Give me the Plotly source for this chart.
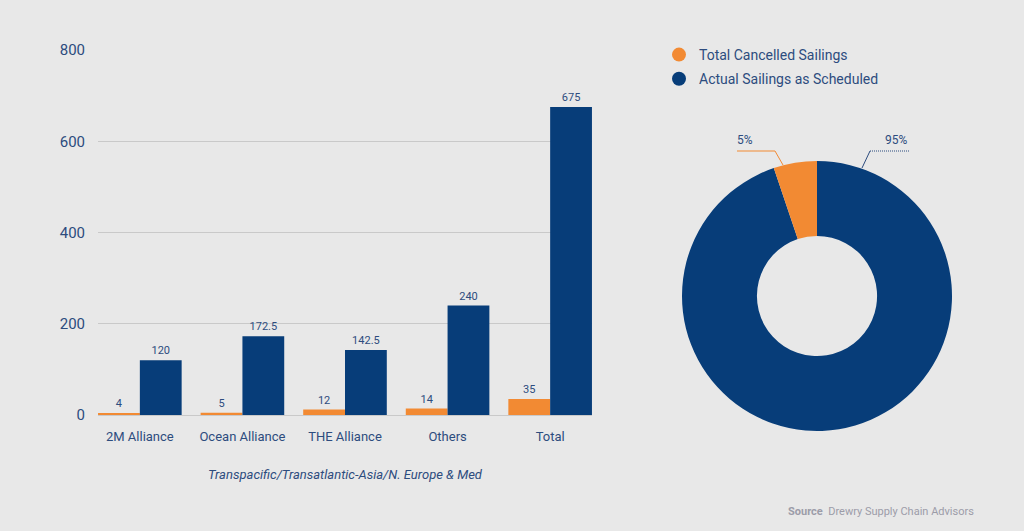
import plotly.graph_objects as go

# data
categories = ["2M Alliance", "Ocean Alliance", "THE Alliance", "Others", "Total"]
cancelled = [4, 5, 12, 14, 35]
scheduled = [120, 172.5, 142.5, 240, 675]
cancelled_labels = ["4", "5", "12", "14", "35"]
scheduled_labels = ["120", "172.5", "142.5", "240", "675"]

pie_labels = ["Total Cancelled Sailings", "Actual Sailings as Scheduled"]
pie_values = [35, 640]

ORANGE = "#F28A33"
BLUE = "#073D79"
TEXT = "#2D4C7E"
BG = "#E8E8E8"
FONT = "Roboto"

W, H = 1024, 531

fig = go.Figure()

fig.add_trace(go.Bar(
    x=categories, y=cancelled, text=cancelled_labels,
    textposition="outside", cliponaxis=False,
    marker=dict(color=ORANGE, line=dict(width=0)),
    textfont=dict(size=11, color=TEXT, family=FONT),
    showlegend=False, hoverinfo="skip",
))
fig.add_trace(go.Bar(
    x=categories, y=scheduled, text=scheduled_labels,
    textposition="outside", cliponaxis=False,
    marker=dict(color=BLUE, line=dict(width=0)),
    textfont=dict(size=11, color=TEXT, family=FONT),
    showlegend=False, hoverinfo="skip",
))

# donut: scheduled slice first so the cancelled slice sits just left of 12 o'clock
fig.add_trace(go.Pie(
    labels=pie_labels[::-1], values=pie_values[::-1],
    marker=dict(colors=[BLUE, ORANGE], line=dict(width=0)),
    hole=0.445, sort=False, direction="clockwise", rotation=0,
    textinfo="none", showlegend=False,
    domain=dict(x=[(817 - 135) / W, (817 + 135) / W],
                y=[1 - 431 / H, 1 - 161 / H]),
))

# legend entries with round markers
for i, (name, col) in enumerate(zip(pie_labels, [ORANGE, BLUE])):
    fig.add_trace(go.Scatter(
        x=[None], y=[None], mode="markers", name=name,
        marker=dict(symbol="circle", size=14, color=col),
        legendgroup=str(i),
    ))

# percentage labels with leader lines
total = sum(pie_values)
pcts = [f"{round(v / total * 100)}%" for v in pie_values]
for pct, xc in zip(pcts, [745, 896]):
    fig.add_annotation(x=xc / W, y=1 - 140 / H, xref="paper", yref="paper",
                       xanchor="center", yanchor="middle",
                       text=pct, showarrow=False,
                       font=dict(size=12, color=TEXT, family=FONT))


def px(x, y):
    return f"{x / W} {1 - y / H}"


fig.add_shape(type="path", xref="paper", yref="paper",
              path=f"M {px(737, 151)} L {px(775, 151)} L {px(783, 165)}",
              line=dict(color=ORANGE, width=1))
fig.add_shape(type="path", xref="paper", yref="paper",
              path=f"M {px(862, 168)} L {px(870, 151)}",
              line=dict(color=TEXT, width=1))
fig.add_shape(type="line", xref="paper", yref="paper",
              x0=870 / W, y0=1 - 151 / H, x1=909 / W, y1=1 - 151 / H,
              line=dict(color=TEXT, width=1, dash="1px,1px"))

# source note
fig.add_annotation(x=976 / W, y=1 - 511 / H, xref="paper", yref="paper",
                   xanchor="right", yanchor="middle", showarrow=False,
                   text="<b>Source</b>  Drewry Supply Chain Advisors",
                   font=dict(size=11, color="#9C9CA8", family=FONT))

fig.update_layout(
    width=W, height=H,
    paper_bgcolor=BG, plot_bgcolor=BG,
    margin=dict(l=0, r=0, t=0, b=0),
    barmode="group", bargap=0.185, bargroupgap=0,
    font=dict(family=FONT, color=TEXT),
    legend=dict(x=659 / W, y=1 - 39 / H, xanchor="left", yanchor="top",
                bgcolor="rgba(0,0,0,0)", font=dict(size=14, color=TEXT, family=FONT),
                tracegroupgap=3, traceorder="grouped", itemclick=False),
    xaxis=dict(
        domain=[98 / W, 592 / W], range=[-0.408, 4.408],
        showgrid=False, showline=False, zeroline=False, ticks="",
        ticklabelstandoff=12,
        tickfont=dict(size=13, color=TEXT), automargin=False,
        title=dict(text="<i>Transpacific/Transatlantic-Asia/N. Europe & Med</i>",
                   font=dict(size=13, color=TEXT), standoff=26),
    ),
    yaxis=dict(
        domain=[1 - 415 / H, 1 - 50 / H], range=[0, 800],
        tickvals=[0, 200, 400, 600, 800],
        showgrid=True, gridcolor="#C9C9C9", gridwidth=1,
        zeroline=True, zerolinecolor="#C9C9C9", zerolinewidth=1,
        showline=False, ticks="", ticklabelstandoff=12,
        tickfont=dict(size=15, color=TEXT), automargin=False,
    ),
)

fig.write_html(
    "out.html",
    config={"displayModeBar": False},
    post_script="document.body.style.margin='0';document.body.style.overflow='hidden';",
)
